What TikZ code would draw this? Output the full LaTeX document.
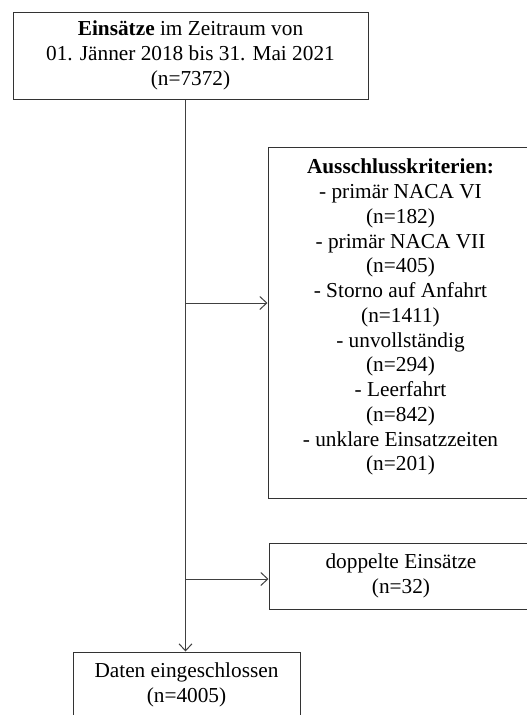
\documentclass[tikz,border=0pt]{standalone}
\usepackage{fontspec}
\setmainfont{Liberation Serif}
\usetikzlibrary{arrows.meta}
\begin{document}
\begin{tikzpicture}[x=1pt,y=-1pt,>={Straight Barb[length=7pt,width=13pt]},
  box/.style={draw=black!80,line width=1pt,align=center,inner sep=0pt,
    font=\fontsize{21.3}{24.75}\selectfont,
    execute at begin node={\rule{0pt}{21pt}}},
  flow/.style={draw=black!75,line width=1pt}]
  \useasboundingbox (0,0) rectangle (527,715);
  \clip (0,0) rectangle (527,715);
  % Boxes of the flow chart.
  \node[box,minimum width=355pt,minimum height=87pt] (start) at (190.5,55.5)
    {\textbf{Einsätze} im Zeitraum von\\01. Jänner 2018 bis 31. Mai 2021\\(n=7372)};
  \node[box,minimum width=265pt,minimum height=351pt] (excl) at (400.5,322.5)
    {\textbf{Ausschlusskriterien:}\\- primär NACA VI\\(n=182)\\- primär NACA VII\\(n=405)\\
     - Storno auf Anfahrt\\(n=1411)\\- unvollständig\\(n=294)\\- Leerfahrt\\(n=842)\\
     - unklare Einsatzzeiten\\(n=201)\rule[-15pt]{0pt}{15pt}};
  \node[box,minimum width=264pt,minimum height=66pt] (dupl) at (401,576)
    {doppelte Einsätze\\(n=32)};
  \node[box,minimum width=227pt,minimum height=65pt] (incl) at (186.5,684.5)
    {Daten eingeschlossen\\(n=4005)};
  % Main line and the two branches to the right.
  \coordinate (spine) at (185.5,0);
  \coordinate (b1) at (185.5,303);
  \coordinate (b2) at (185.5,579);
  \draw[flow,->] (spine |- start.south) -- (spine |- incl.north);
  \draw[flow,->] (b1) -- (b1 -| excl.west);
  \draw[flow,->] (b2) -- (b2 -| dupl.west);
\end{tikzpicture}
\end{document}
